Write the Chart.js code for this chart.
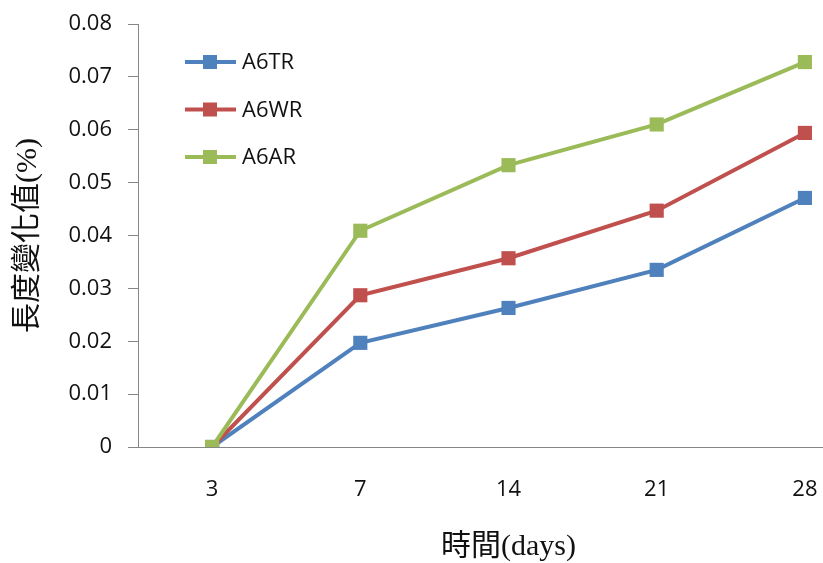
<!DOCTYPE html>
<html>
<head>
<meta charset="utf-8">
<script src="https://cdn.jsdelivr.net/npm/chart.js@4/dist/chart.umd.min.js"></script>
<style>
  html, body { margin: 0; padding: 0; background: #fff; overflow: hidden; }
  #wrap { width: 823px; height: 563px; overflow: hidden; }
</style>
</head>
<body>
<div id="wrap"><canvas id="chart" width="900" height="563"></canvas></div>
<script>
const days = ['3', '7', '14', '21', '28'];
const a6tr = [0, 0.0197, 0.0263, 0.0335, 0.0471];
const a6wr = [0, 0.0287, 0.0357, 0.0447, 0.0594];
const a6ar = [0, 0.0409, 0.0533, 0.0610, 0.0728];

const tickFont = { family: '"Open Sans", sans-serif', size: 22 };
const titleFont = { family: '"Liberation Serif", "Noto Sans CJK TC", serif', size: 30, lineHeight: 1.2 };
const axisGray = '#868686';

function series(label, data, color, order) {
    return {
        label: label,
        data: data,
        borderColor: color,
        backgroundColor: color,
        borderWidth: 4,
        pointStyle: 'rect',
        pointRadius: 10,
        pointHoverRadius: 10,
        pointBorderWidth: 0,
        tension: 0,
        order: order
    };
}

// legend drawn inside the plot, like the original
const insideLegend = {
    id: 'insideLegend',
    afterDraw(chart) {
        const ctx = chart.ctx;
        ctx.save();
        ctx.font = '22px "Open Sans", sans-serif';
        ctx.textBaseline = 'middle';
        chart.data.datasets.forEach((ds, i) => {
            const y = 62 + i * 47.5;
            ctx.strokeStyle = ds.borderColor;
            ctx.lineWidth = 4;
            ctx.beginPath();
            ctx.moveTo(185, y);
            ctx.lineTo(236, y);
            ctx.stroke();
            ctx.fillStyle = ds.borderColor;
            ctx.fillRect(203, y - 7, 14, 14);
            ctx.fillStyle = '#111';
            ctx.fillText(ds.label, 242, y + 1);
        });
        ctx.restore();
    }
};

new Chart(document.getElementById('chart'), {
    type: 'line',
    data: {
        labels: days,
        datasets: [
            series('A6TR', a6tr, '#4F81BD', 2),
            series('A6WR', a6wr, '#C0504D', 1),
            series('A6AR', a6ar, '#9BBB59', 0)
        ]
    },
    options: {
        responsive: false,
        animation: false,
        layout: { padding: { left: 0, right: 21, top: 24, bottom: 0 } },
        plugins: {
            legend: { display: false },
            tooltip: { enabled: false }
        },
        scales: {
            x: {
                offset: true,
                afterFit: s => { s.height = 116; },
                grid: { display: false, drawTicks: false },
                border: { display: true, color: axisGray, width: 1 },
                ticks: { color: '#111', font: tickFont, padding: 30, maxRotation: 0 },
                title: {
                    display: true,
                    text: '時間(days)',
                    color: '#111',
                    font: titleFont,
                    padding: { top: 0, bottom: -2 }
                }
            },
            y: {
                min: 0,
                max: 0.08,
                afterFit: s => { s.width = 138; s.paddingTop = 0; s.paddingBottom = 0; },
                grid: { drawOnChartArea: false, color: axisGray, tickLength: 10 },
                border: { display: true, color: axisGray, width: 1 },
                ticks: {
                    stepSize: 0.01,
                    color: '#111',
                    font: tickFont,
                    padding: 16,
                    callback: v => +v.toFixed(2)
                },
                title: {
                    display: true,
                    text: '長度變化值(%)',
                    color: '#111',
                    font: titleFont,
                    padding: { top: 10, bottom: 0 }
                }
            }
        }
    },
    plugins: [insideLegend]
});
</script>
</body>
</html>
